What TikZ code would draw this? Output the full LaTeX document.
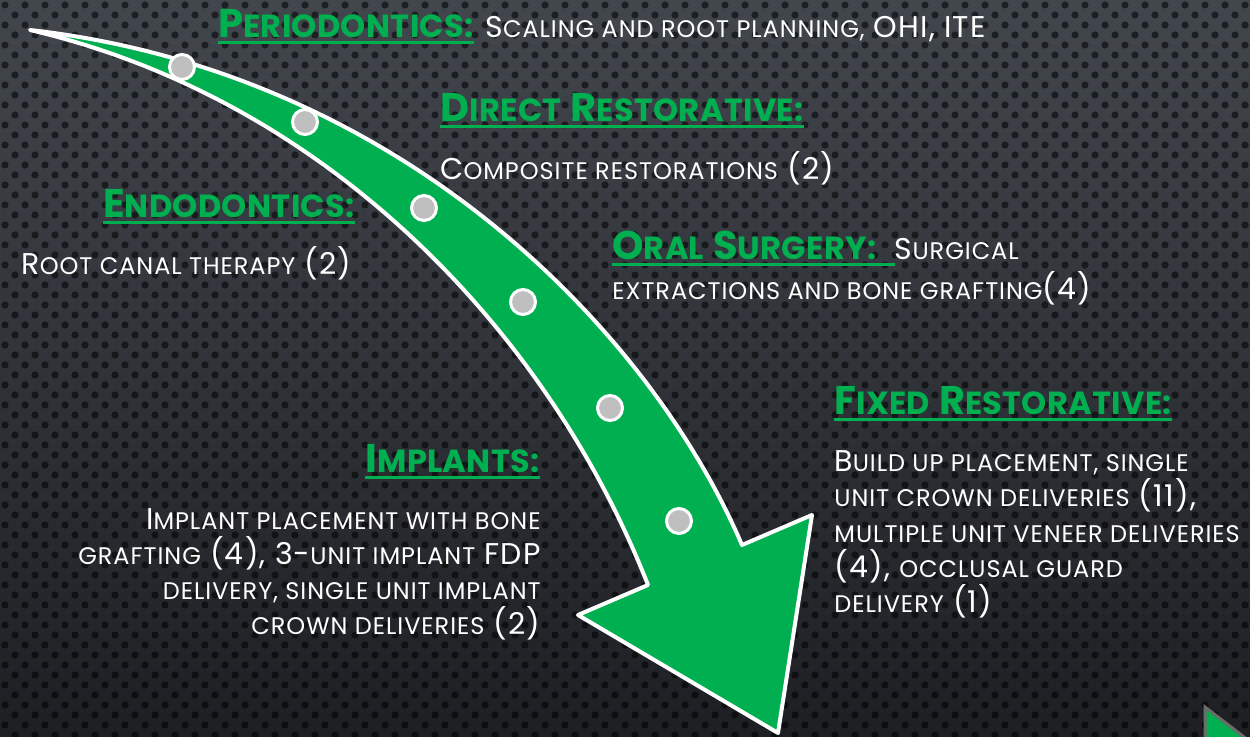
\documentclass[tikz,border=0pt]{standalone}
\usepackage{fontspec}
\setmainfont{Poppins}
\usetikzlibrary{calc}

\definecolor{bgtop}{HTML}{42464D}
\definecolor{bgbot}{HTML}{1D1F23}
\definecolor{leaf}{HTML}{00B050}
\definecolor{stud}{HTML}{BFBFBF}
\definecolor{navedge}{HTML}{6B6B6B}

% faked small capitals: lower-case words set as smaller capitals
\makeatletter
\newcommand\lc[1]{{\fontsize{\fpeval{0.8*\f@size}}{\f@baselineskip}\selectfont\MakeUppercase{#1}}}
\makeatother

\begin{document}
\begin{tikzpicture}[x=0.5pt,y=-0.5pt,
  body/.style={inner sep=0pt, text=white, font=\fontsize{15}{17.5}\selectfont\addfontfeature{LetterSpace=4}},
  head/.style={inner sep=0pt, text=leaf, font=\fontsize{20}{24}\selectfont\bfseries\addfontfeature{LetterSpace=1}},
  uline/.style={draw=leaf, line width=1.5pt},
  studdot/.style={circle, fill=stud, draw=white, line width=1.5pt, minimum size=12.5pt, inner sep=0pt},
  arrowbody/.style={fill=leaf, draw=white, line width=2pt, line join=round}]

\useasboundingbox (0,0) rectangle (1250,737);
\clip (0,0) rectangle (1250,737);

% perforated dark backdrop, one path per row of holes
\shade[top color=bgtop, bottom color=bgbot] (0,0) rectangle (1250,737);
\foreach \r in {0,...,74} {
  \pgfmathsetmacro{\off}{10*mod(\r,2) + 5}
  \fill[black, opacity=0.55]
    \foreach \c in {0,...,63} {
      ({20*\c + \off}, {10*\r + 5}) circle[radius=1.8pt]
    };
}

% curved timeline arrow
\path[arrowbody] (30,30) coordinate (tail)
  .. controls (400,72) and (650,330) .. (742,545) coordinate (neckR)
  -- (812,515) coordinate (barbR)
  -- (778,733) coordinate (tip)
  -- (578,615) coordinate (barbL)
  -- (648,585) coordinate (neckL)
  .. controls (550,335) and (330,100) .. (tail) -- cycle;

% milestones along the arrow
\node[studdot] (s1) at (182,67) {};
\node[studdot] (s2) at (305,122) {};
\node[studdot] (s3) at (424,208) {};
\node[studdot] (s4) at (523,302) {};
\node[studdot] (s5) at (610,408) {};
\node[studdot] (s6) at (679,521) {};

% headings and their descriptions
\node[head, anchor=base west] (per) at (218,38) {P\lc{eriodontics:}};
\node[body, anchor=base west] (perb) at ([xshift=5.5pt]per.base east) {S\lc{caling and root planning,} OHI, ITE};

\node[head, anchor=base west] (dir) at (440,122) {D\lc{irect} R\lc{estorative:}};
\node[body, anchor=base west] (dirb) at (440,180) {C\lc{omposite restorations} (2)};

\node[head, anchor=base east] (endo) at (355,218) {E\lc{ndodontics:}};
\node[body, anchor=base east] (endob) at (352,275) {R\lc{oot canal therapy} (2)};

\node[head, anchor=base west] (oral) at (612,260) {O\lc{ral} S\lc{urgery:}\rule{9pt}{0pt}};
\node[body, anchor=base west] (oralb) at (oral.base east) {S\lc{urgical}};
\node[body, anchor=base west] (oralc) at (612,300) {\lc{extractions and bone grafting}(4)};

\node[head, anchor=base west] (fix) at (834,415) {F\lc{ixed} R\lc{estorative:}};
\node[body, anchor=base west] (fx1) at (834,472) {B\lc{uild up placement, single}};
\node[body, anchor=base west] (fx2) at (834,507) {\lc{unit crown deliveries} (11),};
\node[body, anchor=base west] (fx3) at (834,543) {\lc{multiple unit veneer deliveries}};
\node[body, anchor=base west] (fx4) at (834,578) {(4), \lc{occlusal guard}};
\node[body, anchor=base west] (fx5) at (834,613) {\lc{delivery} (1)};

\node[head, anchor=base east] (imp) at (540,473) {I\lc{mplants:}};
\node[body, anchor=base east] (im1) at (541,530) {I\lc{mplant placement with bone}};
\node[body, anchor=base east] (im2) at (541,565) {\lc{grafting} (4), 3-\lc{unit implant} FDP};
\node[body, anchor=base east] (im3) at (541,600) {\lc{delivery, single unit implant}};
\node[body, anchor=base east] (im4) at (541,635) {\lc{crown deliveries} (2)};

\foreach \h in {per,dir,endo,oral,fix,imp}
  \draw[uline] ([yshift=-2.5pt]\h.base west) -- ([yshift=-2.5pt]\h.base east);

% corner navigation marker
\path[draw=navedge, fill=leaf, line width=1.5pt]
  (1205,707) coordinate (nav) -- (1205,780) -- (1300,780) -- cycle;
\end{tikzpicture}
\end{document}
